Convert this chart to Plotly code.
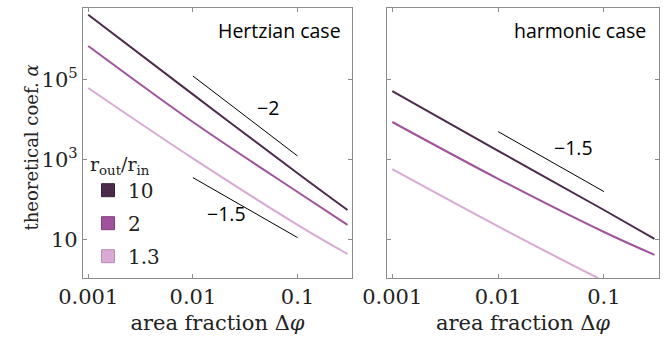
import plotly.graph_objects as go

# ---- data ----
area_fraction = [0.001, 0.01, 0.1, 0.3]
ratio_labels = ["10", "2", "1.3"]
colors = ["#4b2a4b", "#a0529c", "#d8aad4"]
swatch_edge = ["#3a1f3a", "#80407c", "#b48cb0"]

# theoretical coefficient alpha, Hertzian case (log10 values)
hertz_log = {
    "10": [6.61, 4.62, 2.65, 1.73],
    "2": [5.83, 3.93, 2.18, 1.36],
    "1.3": [4.78, 3.02, 1.36, 0.63],
}
# harmonic case
harm_log = {
    "10": [4.70, 3.21, 1.73, 1.01],
    "2": [3.93, 2.51, 1.18, 0.61],
    "1.3": [2.75, 1.32, -0.05, -0.68],
}

# slope guide lines
guide_x = [0.01, 0.1]
hertz_guide_m2 = [10 ** 5.08, 10 ** 3.08]
hertz_guide_m15 = [10 ** 2.54, 10 ** 1.04]
harm_guide_m15 = [10 ** 3.69, 10 ** 2.19]

x_ticks = [0.001, 0.01, 0.1]
x_ticktext = ["0.001", "0.01", "0.1"]
y_ticks = [10, 1e3, 1e5]
y_ticktext = ["10", "10<sup>3</sup>", "10<sup>5</sup>"]

SERIF = "DejaVu Serif"
SANS = "Open Sans"
TXT = "#222"

fig = go.Figure()

for lab, col in zip(ratio_labels, colors):
    fig.add_trace(go.Scatter(x=area_fraction, y=[10 ** v for v in hertz_log[lab]],
                             mode="lines", line=dict(color=col, width=2, shape="spline", smoothing=1),
                             showlegend=False, xaxis="x", yaxis="y"))
    fig.add_trace(go.Scatter(x=area_fraction, y=[10 ** v for v in harm_log[lab]],
                             mode="lines", line=dict(color=col, width=2, shape="spline", smoothing=1),
                             showlegend=False, xaxis="x2", yaxis="y2"))

for gy, xa, ya in [(hertz_guide_m2, "x", "y"), (hertz_guide_m15, "x", "y"),
                   (harm_guide_m15, "x2", "y2")]:
    fig.add_trace(go.Scatter(x=guide_x, y=gy, mode="lines",
                             line=dict(color="black", width=1),
                             showlegend=False, xaxis=xa, yaxis=ya))

# legend entries (square swatches)
for i, (lab, col, ec) in enumerate(zip(ratio_labels, colors, swatch_edge)):
    fig.add_trace(go.Scatter(x=[None], y=[None], mode="markers", name=lab,
                             legendgroup=f"g{i}",
                             marker=dict(symbol="square", size=13, color=col,
                                         line=dict(color=ec, width=1)),
                             xaxis="x", yaxis="y"))

axis_common = dict(type="log", showline=True, linecolor="#8c8c8c", linewidth=1.2,
                   mirror="ticks", ticks="inside", ticklen=4, tickcolor="#8c8c8c",
                   showgrid=False, zeroline=False, automargin=False,
                   tickfont=dict(family=SERIF, size=21, color=TXT))

xr = [-3.05, -0.48]
yr = [0.03, 6.78]

xtitle = dict(text="area fraction Δ<i>φ</i>", standoff=7,
              font=dict(family=SERIF, size=21, color=TXT))

fig.update_layout(
    template="none",
    width=668, height=341,
    margin=dict(l=0, r=0, t=0, b=0),
    paper_bgcolor="white", plot_bgcolor="white",
    xaxis=dict(axis_common, domain=[83 / 668, 352 / 668], range=xr,
               tickvals=x_ticks, ticktext=x_ticktext, title=xtitle),
    xaxis2=dict(axis_common, domain=[387 / 668, 659 / 668], range=xr, anchor="y2",
                tickvals=x_ticks, ticktext=x_ticktext, title=xtitle),
    yaxis=dict(axis_common, domain=[1 - 278 / 341, 1 - 8 / 341], range=yr,
               tickvals=y_ticks, ticktext=y_ticktext),
    yaxis2=dict(axis_common, domain=[1 - 278 / 341, 1 - 8 / 341], range=yr,
                anchor="x2", tickvals=y_ticks, showticklabels=False),
    legend=dict(x=88 / 668, y=1 - 146 / 341, xanchor="left", yanchor="top",
                bgcolor="rgba(0,0,0,0)", tracegroupgap=4,
                font=dict(family=SERIF, size=20, color=TXT),
                title=dict(text="r<sub>out</sub>/r<sub>in</sub>",
                           font=dict(family=SERIF, size=19, color=TXT))),
)

# y-axis title
fig.add_annotation(text="theoretical coef. <i>α</i>", xref="paper", yref="paper",
                   x=18 / 668, y=1 - 148 / 341, textangle=-90, showarrow=False,
                   font=dict(family=SERIF, size=18, color=TXT))

ann_font = dict(family=SANS, size=19.5, color="black")
fig.add_annotation(text="Hertzian case", xref="x domain", yref="y domain",
                   x=0.967, y=0.918, xanchor="right", yanchor="middle",
                   showarrow=False, font=ann_font)
fig.add_annotation(text="harmonic case", xref="x2 domain", yref="y2 domain",
                   x=0.96, y=0.918, xanchor="right", yanchor="middle",
                   showarrow=False, font=ann_font)
fig.add_annotation(text="−2", xref="x domain", yref="y domain",
                   x=0.639, y=0.63, xanchor="left", showarrow=False, font=ann_font)
fig.add_annotation(text="−1.5", xref="x domain", yref="y domain",
                   x=0.454, y=0.181, xanchor="left", showarrow=False, font=ann_font)
fig.add_annotation(text="−1.5", xref="x2 domain", yref="y2 domain",
                   x=0.607, y=0.485, xanchor="left", showarrow=False, font=ann_font)

fig.write_html("out.html")
